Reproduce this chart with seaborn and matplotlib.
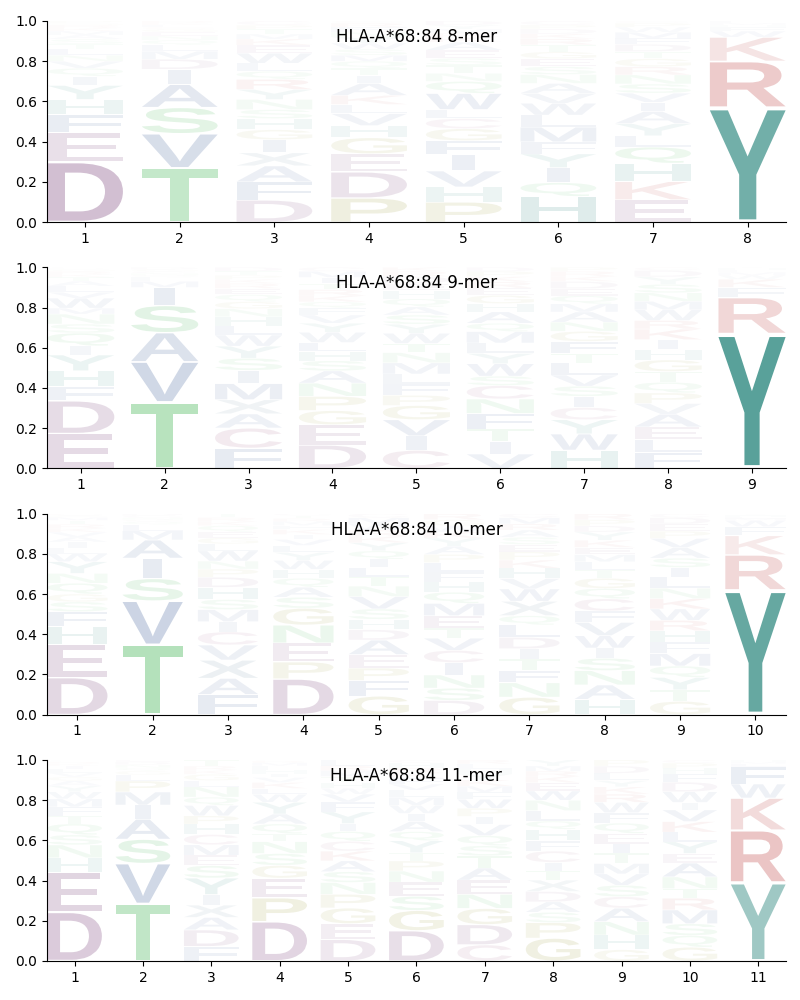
import numpy as np
import pandas as pd
import seaborn as sns
import matplotlib
matplotlib.use("Agg")
import matplotlib.pyplot as plt
from matplotlib.textpath import TextPath
from matplotlib.patches import PathPatch
from matplotlib.font_manager import FontProperties
from matplotlib.transforms import Affine2D

allele = "HLA-A*68:84"

# letters per position, bottom to top, and their frequencies
mer8_letters = ["DEFHYIQVNLTSAMKRGP", "TVSAIDMLQNEGCFKR", "DFAXIGHSNYRQLWEKMTPC",
                "PDEGHVLKAITQMSWYNFRC", "PHVIFGCLWQNTSEAKRMYD", "HQIYFMLWVANSEGTRKDPC",
                "EKHQLYAIVSNRGTDFMWPC", "YRKWFHML"]
mer8_values = [
    [.30, .145, .09, .075, .07, .045, .04, .035, .03, .03, .025, .025, .02, .02, .015, .015, .01, .01],
    [.27, .17, .13, .115, .075, .05, .04, .03, .025, .02, .02, .015, .01, .01, .01, .01],
    [.11, .09, .08, .065, .065, .05, .055, .045, .05, .05, .05, .04, .04, .05, .04, .03, .025, .025, .02, .02],
    [.12, .13, .09, .08, .06, .06, .045, .045, .06, .04, .035, .035, .03, .03, .03, .03, .025, .025, .02, .01],
    [.10, .075, .08, .08, .07, .06, .05, .045, .08, .06, .04, .04, .035, .04, .04, .025, .02, .02, .02, .02],
    [.13, .07, .075, .07, .06, .075, .06, .06, .05, .05, .045, .04, .04, .035, .035, .03, .025, .025, .02, .02],
    [.11, .09, .09, .08, .055, .06, .06, .045, .045, .045, .045, .04, .04, .035, .035, .03, .03, .025, .02, .01],
    [.57, .23, .12, .03, .02, .01, .01, .01],
]

mer9_letters = ["EDFHYIQSNMWVLATKRGPC", "TVASIMLQNCGD", "FCAXMISYWLHNGQERKPTD",
                "DEGPNASHLWYVFQKRTIMC", "CIVGPFLMNTWYSAQHEDRK", "VITFNCSWYLMQAHGERKPD",
                "HWYCISVLTFGNAMQEDKRP", "FLEAVPQTGHIKRWMNSYDC", "YRFKWMLHI"]
mer9_values = [
    [.175, .165, .07, .08, .08, .045, .065, .045, .05, .03, .05, .03, .03, .025, .02, .015, .015, .01, .005, .005],
    [.33, .20, .145, .135, .09, .03, .02, .01, .01, .01, .01, .01],
    [.10, .10, .07, .07, .08, .065, .06, .06, .055, .045, .045, .04, .035, .035, .03, .025, .02, .02, .02, .02],
    [.115, .10, .07, .07, .065, .06, .05, .045, .045, .05, .045, .04, .035, .03, .03, .03, .03, .03, .03, .02],
    [.09, .07, .08, .07, .05, .055, .05, .055, .05, .045, .05, .045, .045, .04, .04, .04, .035, .035, .025, .02],
    [.07, .06, .06, .075, .07, .065, .045, .06, .05, .05, .055, .04, .055, .04, .04, .035, .03, .025, .025, .02],
    [.09, .08, .07, .06, .055, .05, .055, .06, .045, .06, .05, .045, .05, .04, .04, .035, .035, .025, .025, .02],
    [.075, .06, .06, .06, .05, .05, .05, .05, .055, .05, .045, .05, .04, .05, .04, .04, .04, .035, .03, .015],
    [.67, .18, .05, .04, .02, .015, .01, .01, .005],
]

mer10_letters = ["DEHFSGQNYWLIAVKRTMPC", "TVSIAMLQGNCD", "FAXVCIMSHDPNWLGEQKRT",
                 "DPENGSAQHWYLVIKFMRTC", "GFPEADHSVNTLIQYKRWMC", "DSNICVTEMQHFLPAYKWGR",
                 "GNFTIDLQXWVHKPESARMC", "HANSIWVFCQGTLMEKYDPR", "GTYQMFHRWKNLISAVPEDC",
                 "YRKFWMLHI"]
mer10_values = [
    [.19, .17, .09, .075, .05, .04, .055, .05, .06, .04, .03, .03, .025, .025, .02, .02, .02, .015, .01, .01],
    [.345, .215, .11, .10, .09, .045, .03, .015, .01, .01, .01, .01],
    [.10, .08, .09, .075, .065, .05, .06, .05, .06, .05, .04, .04, .05, .035, .03, .03, .03, .02, .02, .02],
    [.18, .085, .095, .09, .085, .055, .05, .045, .045, .045, .04, .035, .03, .025, .025, .02, .02, .015, .015, .01],
    [.09, .075, .06, .065, .07, .05, .05, .05, .06, .05, .045, .045, .04, .04, .04, .03, .03, .03, .03, .02],
    [.07, .06, .065, .06, .06, .06, .05, .06, .06, .055, .05, .05, .045, .04, .04, .04, .03, .03, .03, .03],
    [.085, .07, .06, .055, .05, .055, .06, .045, .07, .06, .05, .05, .04, .04, .035, .035, .035, .03, .03, .02],
    [.075, .07, .07, .06, .05, .06, .065, .055, .06, .05, .05, .04, .04, .035, .035, .035, .04, .03, .03, .03],
    [.065, .055, .06, .055, .06, .055, .055, .05, .055, .05, .05, .055, .045, .045, .05, .045, .035, .035, .03, .02],
    [.62, .175, .095, .045, .03, .01, .01, .01, .005],
]

mer11_letters = ["DEHNSQTFMWYAGVLIKRPC", "TVSAIMPLGQNDE", "FDAXIYSEMCHPWQNLGKRT",
                 "DPEGSNTQAYWLKVIHFMRC", "DEGPNSAKCQIYFVWHTMRL", "DGSENPTYQAIWMLVFKRHC",
                 "CDGNEATSQVIPWFMKYHLR", "GPSADXTICFHQLNWEKRMY", "GHNACSVMTIEQFWRKYLDP",
                 "GQSMRTNAEYLKVIWDFHPC", "YRKWFLMH"]
mer11_values = [
    [.245, .20, .07, .065, .05, .055, .04, .045, .04, .035, .03, .025, .02, .02, .02, .015, .01, .01, .005, .005],
    [.285, .20, .12, .10, .07, .065, .055, .03, .02, .015, .015, .015, .01],
    [.07, .08, .06, .06, .05, .08, .06, .05, .05, .05, .05, .04, .05, .04, .05, .03, .03, .02, .02, .03],
    [.20, .12, .10, .065, .06, .06, .04, .05, .05, .06, .04, .03, .03, .025, .02, .02, .02, .015, .01, .005],
    [.11, .08, .08, .07, .06, .055, .055, .05, .05, .05, .04, .06, .05, .04, .03, .03, .03, .03, .025, .03],
    [.15, .10, .07, .07, .055, .05, .04, .06, .045, .05, .04, .04, .04, .035, .03, .03, .025, .025, .025, .015],
    [.08, .10, .08, .07, .07, .06, .06, .05, .05, .055, .04, .04, .045, .035, .03, .03, .03, .025, .025, .02],
    [.11, .075, .05, .05, .05, .055, .045, .04, .055, .05, .055, .04, .05, .05, .045, .04, .03, .025, .025, .03],
    [.055, .07, .065, .065, .055, .055, .055, .05, .05, .045, .05, .05, .05, .05, .04, .035, .03, .035, .035, .03],
    [.065, .055, .055, .065, .055, .045, .055, .065, .045, .055, .045, .05, .055, .035, .05, .045, .04, .025, .025, .015],
    [.39, .26, .16, .07, .085, .015, .01, .01],
]

panels = [("8-mer", mer8_letters, mer8_values),
          ("9-mer", mer9_letters, mer9_values),
          ("10-mer", mer10_letters, mer10_values),
          ("11-mer", mer11_letters, mer11_values)]

#Colours by residue group
purple = "#6b2d6b"
pink = "#8b3a6a"
red = "#b22222"
teal = "#087368"
green = "#28aa3c"
olive = "#808000"
blue = "#143c82"
slate = "#2f5f7f"
aa_colors = {"D": purple, "E": purple, "C": pink, "K": red, "R": red,
             "H": teal, "Y": teal, "S": green, "T": green, "N": green, "Q": green,
             "G": olive, "P": olive, "A": blue, "V": blue, "L": blue, "I": blue,
             "M": blue, "F": blue, "W": blue, "X": slate}

WIDTH = 0.8
VPAD = 0.05
font = FontProperties(family="Liberation Sans", weight="bold")


def draw_letter(ax, ch, x, y, h, color, alpha):
    path = TextPath((0, 0), ch, size=1, prop=font)
    bb = path.get_extents()
    w = min(WIDTH, bb.width * 1.7)
    hh = h * (1 - VPAD)
    tr = (Affine2D().translate(-bb.x0, -bb.y0)
          .scale(w / bb.width, hh / bb.height)
          .translate(x - w / 2, y + h * VPAD / 2))
    ax.add_patch(PathPatch(tr.transform_path(path), facecolor=color,
                           edgecolor="none", alpha=alpha))


#Long table with one row per letter
rows = []
for name, letters, values in panels:
    for i, (lets, vals) in enumerate(zip(letters, values)):
        vals = np.array(vals) / np.sum(vals)
        for ch, v in zip(lets, vals):
            rows.append({"panel": name, "pos": i + 1, "letter": ch, "value": v})
df = pd.DataFrame(rows)
df["bottom"] = df.groupby(["panel", "pos"])["value"].cumsum() - df["value"]

sns.set_style("ticks", {"axes.edgecolor": "black", "xtick.color": "black",
                        "ytick.color": "black", "text.color": "black",
                        "axes.labelcolor": "black"})
plt.rcParams["font.family"] = ["DejaVu Sans"]

fig, axes = plt.subplots(4, 1, figsize=(8, 10), dpi=100)
fig.subplots_adjust(left=0.059, right=0.982, top=0.979, bottom=0.039, hspace=0.224)

for ax, (name, letters, values) in zip(axes, panels):
    sub = df[df["panel"] == name]
    n = len(letters)
    for _, r in sub.iterrows():
        draw_letter(ax, r["letter"], r["pos"], r["bottom"], r["value"],
                    aa_colors[r["letter"]], min(1.0, r["value"]))
    ax.set_xlim(0.6, n + 0.4)
    ax.set_ylim(0, 1)
    ax.set_xticks(range(1, n + 1))
    ax.set_yticks([0, 0.2, 0.4, 0.6, 0.8, 1.0])
    ax.set_yticklabels(["0.0", "0.2", "0.4", "0.6", "0.8", "1.0"])
    ax.tick_params(labelsize=10)
    ax.text(0.5, 0.92, f"{allele} {name}", transform=ax.transAxes,
            ha="center", va="center", fontsize=12, color="black")
    sns.despine(ax=ax)

plt.savefig("out.png", dpi=100)
